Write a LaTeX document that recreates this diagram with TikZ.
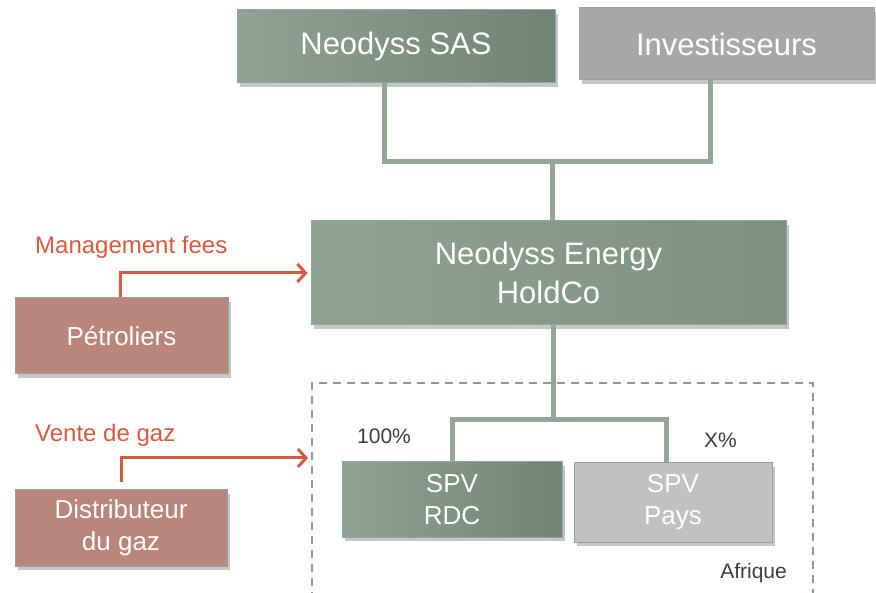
\documentclass[tikz,border=0pt]{standalone}
\usepackage{fontspec}
\setmainfont{Liberation Sans}
\usetikzlibrary{arrows.meta,shadows,positioning}

\definecolor{sagelight}{HTML}{8FA395}
\definecolor{sagedark}{HTML}{6F8474}
\definecolor{sagemid}{HTML}{7D9183}
\definecolor{boxedge}{HTML}{94A699}
\definecolor{linkgreen}{HTML}{93A698}
\definecolor{zonegrey}{HTML}{8F9C95}
\definecolor{rosefill}{HTML}{BA857B}
\definecolor{flowred}{HTML}{D75A3F}
\definecolor{investgrey}{HTML}{A7A7A7}
\definecolor{paysgrey}{HTML}{C1C1C1}
\definecolor{labeldark}{HTML}{3A3F45}

\begin{document}
\begin{tikzpicture}[x=1pt,y=-1pt,
    box/.style={rectangle,draw=boxedge,line width=1pt,inner sep=0pt,text=white,align=center,
      drop shadow={shadow xshift=3pt,shadow yshift=-4pt,opacity=0.45}},
    sage/.style={box,left color=sagelight,right color=sagedark},
    flat/.style={box,fill=#1},
    rose/.style={box,fill=rosefill,font=\fontsize{26}{32}\selectfont},
    big/.style={font=\fontsize{31}{39}\selectfont},
    mid/.style={font=\fontsize{26}{32}\selectfont},
    link/.style={draw=linkgreen,line width=5pt},
    flow/.style={draw=flowred,line width=3pt,-{Straight Barb[length=8pt,width=18pt]}},
    flowlabel/.style={text=flowred,font=\fontsize{24}{28}\selectfont,inner sep=0pt},
    share/.style={text=labeldark,font=\fontsize{21}{25}\selectfont,inner sep=0pt},
    zone/.style={draw=zonegrey,line width=2pt,dash pattern=on 8pt off 6pt}
  ]
    \useasboundingbox (0,0) rectangle (876,593);

    % Afrique zone (open at the bottom)
    \draw[zone] (312,600) |- (813,383) -- (813,600);
    \node[share,anchor=east] (lbl-afr) at (787,573) {Afrique};

    % Shareholders
    \node[sage,big,minimum width=318pt,minimum height=73pt] (sas) at (396,46.5) {Neodyss SAS};
    \node[flat=investgrey,big,minimum width=295pt,minimum height=72pt] (inv) at (726.5,44) {Investisseurs};

    % HoldCo
    \node[sage,right color=sagemid,big,minimum width=475pt,minimum height=104pt] (hold) at (548.5,273) {Neodyss Energy\\HoldCo};

    % Shareholder connections
    \coordinate (top-bar) at (552,162);
    \draw[link] ([xshift=-12pt]sas.south) |- ([xshift=-16.5pt]inv.south |- top-bar) -- ([xshift=-16.5pt]inv.south);
    \draw[link] (top-bar) -- (hold.north -| top-bar);

    % SPVs
    \node[sage,mid,minimum width=220pt,minimum height=75pt] (rdc) at (452,499.5) {SPV\\RDC};
    \node[flat=paysgrey,mid,minimum width=198pt,minimum height=79pt] (pays) at (673,502.5) {SPV\\Pays};
    \coordinate (low-bar) at (553,420);
    \draw[link] (hold.south -| low-bar) -- (low-bar);
    \draw[link] (rdc.north) |- ([xshift=-7pt]pays.north |- low-bar) -- ([xshift=-7pt]pays.north);
    \node[share,anchor=west] (lbl-100) at (357,436) {100\%};
    \node[share,anchor=west] (lbl-x) at (704,440) {X\%};

    % Clients
    \node[rose,minimum width=213pt,minimum height=76pt] (pet) at (121.5,336) {Pétroliers};
    \node[rose,minimum width=212pt,minimum height=76pt] (dist) at (121,528) {Distributeur\\du gaz};

    % Revenue flows
    \node[flowlabel,anchor=west] (lbl-fees) at (35,247) {Management fees};
    \draw[flow] ([xshift=-1.5pt]pet.north) |- ([xshift=-3pt]hold.west);
    \node[flowlabel,anchor=west] (lbl-gaz) at (35,435) {Vente de gaz};
    \coordinate (zone-in) at (308,458);
    \draw[flow] ([yshift=7pt]dist.north) |- (zone-in);

  \end{tikzpicture}
\end{document}
